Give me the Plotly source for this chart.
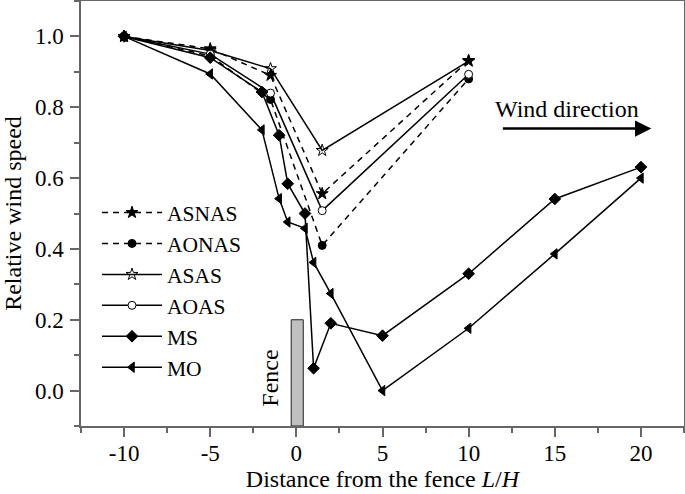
import plotly.graph_objects as go

# Data
x_as = [-10, -5, -1.5, 1.5, 10]
asnas = [1.0, 0.965, 0.89, 0.556, 0.932]
aonas = [1.0, 0.945, 0.822, 0.41, 0.88]
asas = [1.0, 0.96, 0.909, 0.678, 0.93]
aoas = [1.0, 0.95, 0.84, 0.508, 0.893]

x_m = [-10, -5, -2, -1, -0.5, 0.5, 1, 2, 5, 10, 15, 20]
ms = [1.0, 0.94, 0.843, 0.721, 0.584, 0.50, 0.063, 0.19, 0.155, 0.33, 0.541, 0.631]
mo = [1.0, 0.894, 0.736, 0.542, 0.476, 0.458, 0.362, 0.274, 0.0, 0.176, 0.386, 0.60]

x_ticks = [-10, -5, 0, 5, 10, 15, 20]
y_ticks = [0.0, 0.2, 0.4, 0.6, 0.8, 1.0]

FONT = "Liberation Serif, Times New Roman, Times, serif"

fig = go.Figure()

series = [
    ("ASNAS", x_as, asnas, "dash", "star", "black", 9),
    ("AONAS", x_as, aonas, "dash", "circle", "black", 8),
    ("ASAS", x_as, asas, "solid", "star-open", "black", 9),
    ("AOAS", x_as, aoas, "solid", "circle", "white", 8),
    ("MS", x_m, ms, "solid", "diamond", "black", 9),
    ("MO", x_m, mo, "solid", "triangle-left", "black", 9),
]
for name, xs, ys, dash, sym, fill, sz in series:
    fig.add_trace(go.Scatter(
        x=xs, y=ys, name=name, mode="lines+markers",
        line=dict(color="black", width=1.5, dash="6px,5px" if dash == "dash" else "solid"),
        marker=dict(symbol=sym, size=sz, color=fill, line=dict(color="black", width=1)),
    ))

# Fence
fig.add_shape(type="rect", x0=-0.3, x1=0.4, y0=-0.1, y1=0.2,
              fillcolor="#c0c0c0", line=dict(color="#222", width=1), layer="below")
fig.add_annotation(x=-1.5, y=0.035, text="Fence", textangle=-90, showarrow=False,
                   font=dict(family=FONT, size=24, color="black"))

# Wind direction arrow
fig.add_annotation(x=20.6, y=0.74, ax=11.9, ay=0.74, axref="x", ayref="y",
                   xref="x", yref="y", showarrow=True, arrowhead=2, arrowsize=1.3,
                   arrowwidth=2.5, arrowcolor="black", text="")
fig.add_annotation(x=15.7, y=0.795, text="Wind direction", showarrow=False,
                   font=dict(family=FONT, size=24, color="black"))

axis_common = dict(
    showline=True, linecolor="#666", linewidth=1.5, mirror=True,
    ticks="outside", ticklen=9, tickwidth=1.5, tickcolor="#666",
    showgrid=False, zeroline=False, automargin=False,
    tickfont=dict(family=FONT, size=23, color="black"),
)

fig.update_xaxes(range=[-12.5, 22.5], tickvals=x_ticks, ticktext=[str(v) for v in x_ticks],
                 minor=dict(dtick=2.5, tick0=0, ticks="outside", ticklen=5, tickcolor="#666", tickwidth=1.5),
                 ticklabelstandoff=-3,
                 title=dict(text="Distance from the fence <i>L</i>/<i>H</i>",
                            font=dict(family=FONT, size=24, color="black"), standoff=5),
                 **axis_common)
fig.update_yaxes(range=[-0.1, 1.1], tickvals=y_ticks, ticktext=[f"{v:.1f}" for v in y_ticks],
                 minor=dict(dtick=0.1, tick0=0, ticks="outside", ticklen=5, tickcolor="#666", tickwidth=1.5),
                 ticklabelstandoff=2,
                 title=dict(text="Relative wind speed",
                            font=dict(family=FONT, size=24, color="black"), standoff=11),
                 **axis_common)

fig.update_layout(
    width=685, height=494,
    margin=dict(l=81, r=1, t=1, b=68),
    plot_bgcolor="white", paper_bgcolor="white",
    showlegend=True,
    legend=dict(x=(97 - 81) / 603, y=(426 - 192) / 425, xanchor="left", yanchor="top",
                bgcolor="rgba(0,0,0,0)", borderwidth=0,
                font=dict(family=FONT, size=21.5, color="black"),
                itemwidth=60, tracegroupgap=0),
)

fig.write_html("out.html", config={"displayModeBar": False},
               post_script="document.body.style.margin='0';")
